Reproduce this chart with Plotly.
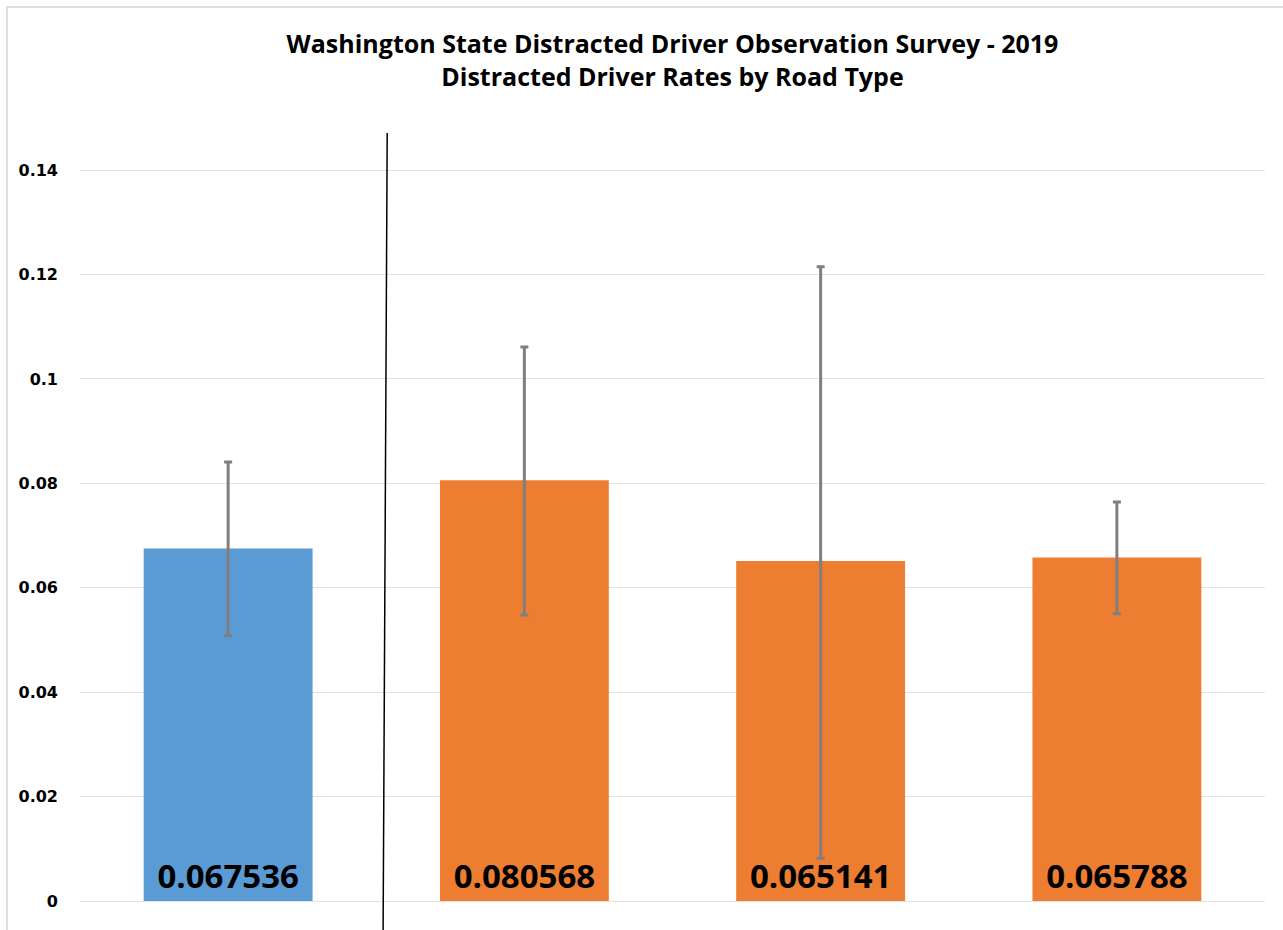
import plotly.graph_objects as go

# ── Data ─────────────────────────────────────────────────────────
road_types = ["Statewide", "Interstate", "Arterial", "Other"]
rates = [0.067536, 0.080568, 0.065141, 0.065788]
ci_upper = [0.0841, 0.1061, 0.1215, 0.0764]
ci_lower = [0.0508, 0.0548, 0.0082, 0.0550]
bar_colors = ["#5b9bd5", "#ed7d31", "#ed7d31", "#ed7d31"]
y_ticks = [0, 0.02, 0.04, 0.06, 0.08, 0.1, 0.12, 0.14]

err_plus = [u - r for u, r in zip(ci_upper, rates)]
err_minus = [r - l for r, l in zip(rates, ci_lower)]

fig = go.Figure(go.Bar(
    x=road_types, y=rates,
    marker=dict(color=bar_colors, line=dict(width=0)),
    width=0.57,
    text=[f"{r:.6f}" for r in rates],
    textposition="inside", insidetextanchor="start", textangle=0,
    constraintext="none",
    textfont=dict(family="Open Sans", size=33, color="black", weight="bold"),
    error_y=dict(type="data", symmetric=False, array=err_plus, arrayminus=err_minus,
                 color="#7f7f7f", thickness=3, width=4),
    showlegend=False,
))

# divider between the statewide bar and the road types
fig.add_shape(type="line", xref="x", yref="paper", x0=0.537, x1=0.523, y0=1.0, y1=-0.05,
              line=dict(color="black", width=1.5))

# light outer frame
fig.add_shape(type="rect", xref="paper", yref="paper", x0=-0.0616, x1=1.1, y0=-0.1, y1=1.164,
              line=dict(color="#e0e0e0", width=2), layer="below")

fig.update_layout(
    width=1283, height=930,
    paper_bgcolor="white", plot_bgcolor="white",
    margin=dict(l=80, r=18, t=133, b=29),
    title=dict(
        text="Washington State Distracted Driver Observation Survey - 2019<br>Distracted Driver Rates by Road Type",
        x=0.5, xref="paper", y=0.943, yref="container", yanchor="top",
        font=dict(family="Open Sans", size=25, color="black", weight="bold"),
    ),
    bargap=0.43,
    xaxis=dict(showticklabels=False, showgrid=False, zeroline=False, showline=False),
    yaxis=dict(range=[0, 0.1471], tickvals=y_ticks, showgrid=True, gridcolor="#e3e3e3",
               gridwidth=1, zeroline=True, zerolinecolor="#e3e3e3", zerolinewidth=1,
               showline=False, ticklabelstandoff=21,
               tickfont=dict(family="DejaVu Sans", size=16, color="black", weight="bold")),
)

fig.write_html("out.html", config={"displayModeBar": False},
               post_script="document.body.style.margin='0';")
